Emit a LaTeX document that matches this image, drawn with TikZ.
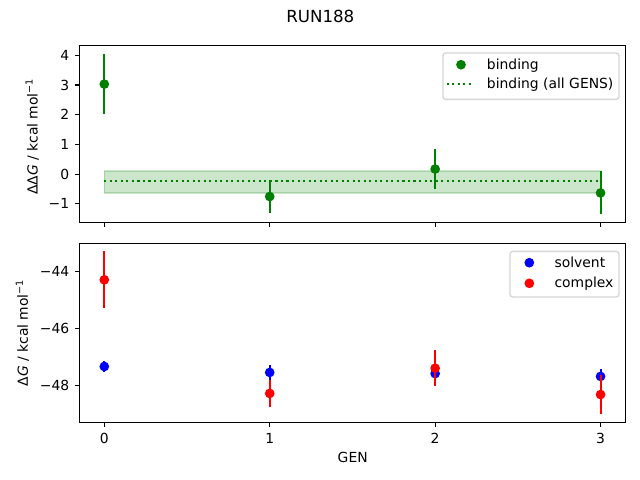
\documentclass[tikz,border=0pt]{standalone}
\usepackage{fontspec}
\setmainfont{DejaVu Sans}
\usepackage{tikz}
\usetikzlibrary{positioning}

\definecolor{mplgreen}{HTML}{008000}
\definecolor{mplblue}{HTML}{0000FF}
\definecolor{mplred}{HTML}{FF0000}
\definecolor{legframe}{gray}{0.8}

\tikzset{
  frameline/.style={line width=0.8pt},
  tickline/.style={line width=0.8pt},
  ticktext/.style={inner sep=0pt, font=\fontsize{10}{12}\selectfont},
  errline/.style={line width=1.5pt, #1},
  dotmark/.style={circle, fill=#1, inner sep=0pt, minimum size=7pt},
  meanline/.style={mplgreen, line width=1.5pt, dash pattern=on 1.5pt off 2.475pt},
  legbox/.style={draw=legframe, fill=white, fill opacity=0.8, draw opacity=0.8, rounded corners=2pt, line width=1pt, anchor=north west},
}

\begin{document}
\begin{tikzpicture}[x=0.72pt, y=-0.72pt]
\useasboundingbox (0,0) rectangle (640,480);

\node at (320.3,22) (title) [anchor=base, inner sep=0pt, font=\fontsize{12}{14}\selectfont] {RUN188};

% top panel: binding
\begin{scope}[shift={(104.3,174.1)}, x=119.1pt, y=21.38pt]
\filldraw[mplgreen, fill opacity=0.2, draw opacity=0.2, line width=1pt] (0,-0.63) rectangle (3,0.10);
\coordinate (meanL) at (0,-0.236);
\coordinate (meanR) at (3,-0.236);
\draw[meanline] (meanL) -- (meanR);
\foreach \g/\v/\e in {0/3.03/1.01, 1/-0.755/0.545, 2/0.17/0.67, 3/-0.635/0.725} {
  \draw[errline=mplgreen] (\g,{\v-\e}) -- (\g,{\v+\e});
  \node at (\g,\v) (bind\g) [dotmark=mplgreen] {};
}
\draw[frameline] (-0.15,-1.63) rectangle (3.15,4.34);
\foreach \g in {0,...,3}
  \draw[tickline] (\g,-1.63) -- ++(0pt,-3.5pt);
\foreach \v/\t in {-1/−1, 0/0, 1/1, 2/2, 3/3, 4/4}
  \draw[tickline] (-0.15,\v) -- ++(-3.5pt,0pt) node[left=3.5pt, ticktext] {\t};
\end{scope}
\node at (32.2,136.5) (ddglabel) [rotate=90, ticktext] {ΔΔ\textit{G} / kcal mol\textsuperscript{−1}};

% top legend
\node at (442.3,52.3) (toplegend) [legbox, minimum width=126.7pt, minimum height=33.4pt] {};
\node at (461,64.7) (bindkey) [dotmark=mplgreen] {};
\node at (486.7,69) (bindtext) [anchor=base west, ticktext] {binding};
\coordinate (meankeyL) at (446.7,84);
\coordinate (meankeyR) at (474.3,84);
\draw[meanline] (meankeyL) -- (meankeyR);
\node at (486.7,88.3) (meantext) [anchor=base west, ticktext] {binding (all GENS)};

% bottom panel: solvent and complex
\begin{scope}[shift={(104.3,-974.8)}, x=119.1pt, y=20.40pt]
\foreach \g/\v/\e in {0/-47.34/0.21, 1/-47.55/0.26, 2/-47.59/0.2, 3/-47.69/0.26} {
  \draw[errline=mplblue] (\g,{\v-\e}) -- (\g,{\v+\e});
  \node at (\g,\v) (solv\g) [dotmark=mplblue] {};
}
\foreach \g/\v/\e in {0/-44.28/1.0, 1/-48.29/0.47, 2/-47.40/0.63, 3/-48.33/0.70} {
  \draw[errline=mplred] (\g,{\v-\e}) -- (\g,{\v+\e});
  \node at (\g,\v) (cplx\g) [dotmark=mplred] {};
}
\draw[frameline] (-0.15,-49.32) rectangle (3.15,-43.0);
\foreach \g in {0,...,3}
  \draw[tickline] (\g,-49.32) -- ++(0pt,-3.5pt) node[below=3.5pt, ticktext] {\g};
\foreach \v/\t in {-48/−48, -46/−46, -44/−44}
  \draw[tickline] (-0.15,\v) -- ++(-3.5pt,0pt) node[left=3.5pt, ticktext] {\t};
\end{scope}
\node at (22.5,332.8) (dglabel) [rotate=90, ticktext] {Δ\textit{G} / kcal mol\textsuperscript{−1}};
\node at (352.7,462.8) (genlabel) [anchor=base, ticktext] {GEN};

% bottom legend
\node at (509.3,250.7) (botlegend) [legbox, minimum width=78.5pt, minimum height=32.8pt] {};
\node at (529.3,262.7) (solvkey) [dotmark=mplblue] {};
\node at (554.3,267) (solvtext) [anchor=base west, ticktext] {solvent};
\node at (529.3,283.3) (cplxkey) [dotmark=mplred] {};
\node at (554.3,287.6) (cplxtext) [anchor=base west, ticktext] {complex};
\end{tikzpicture}
\end{document}
